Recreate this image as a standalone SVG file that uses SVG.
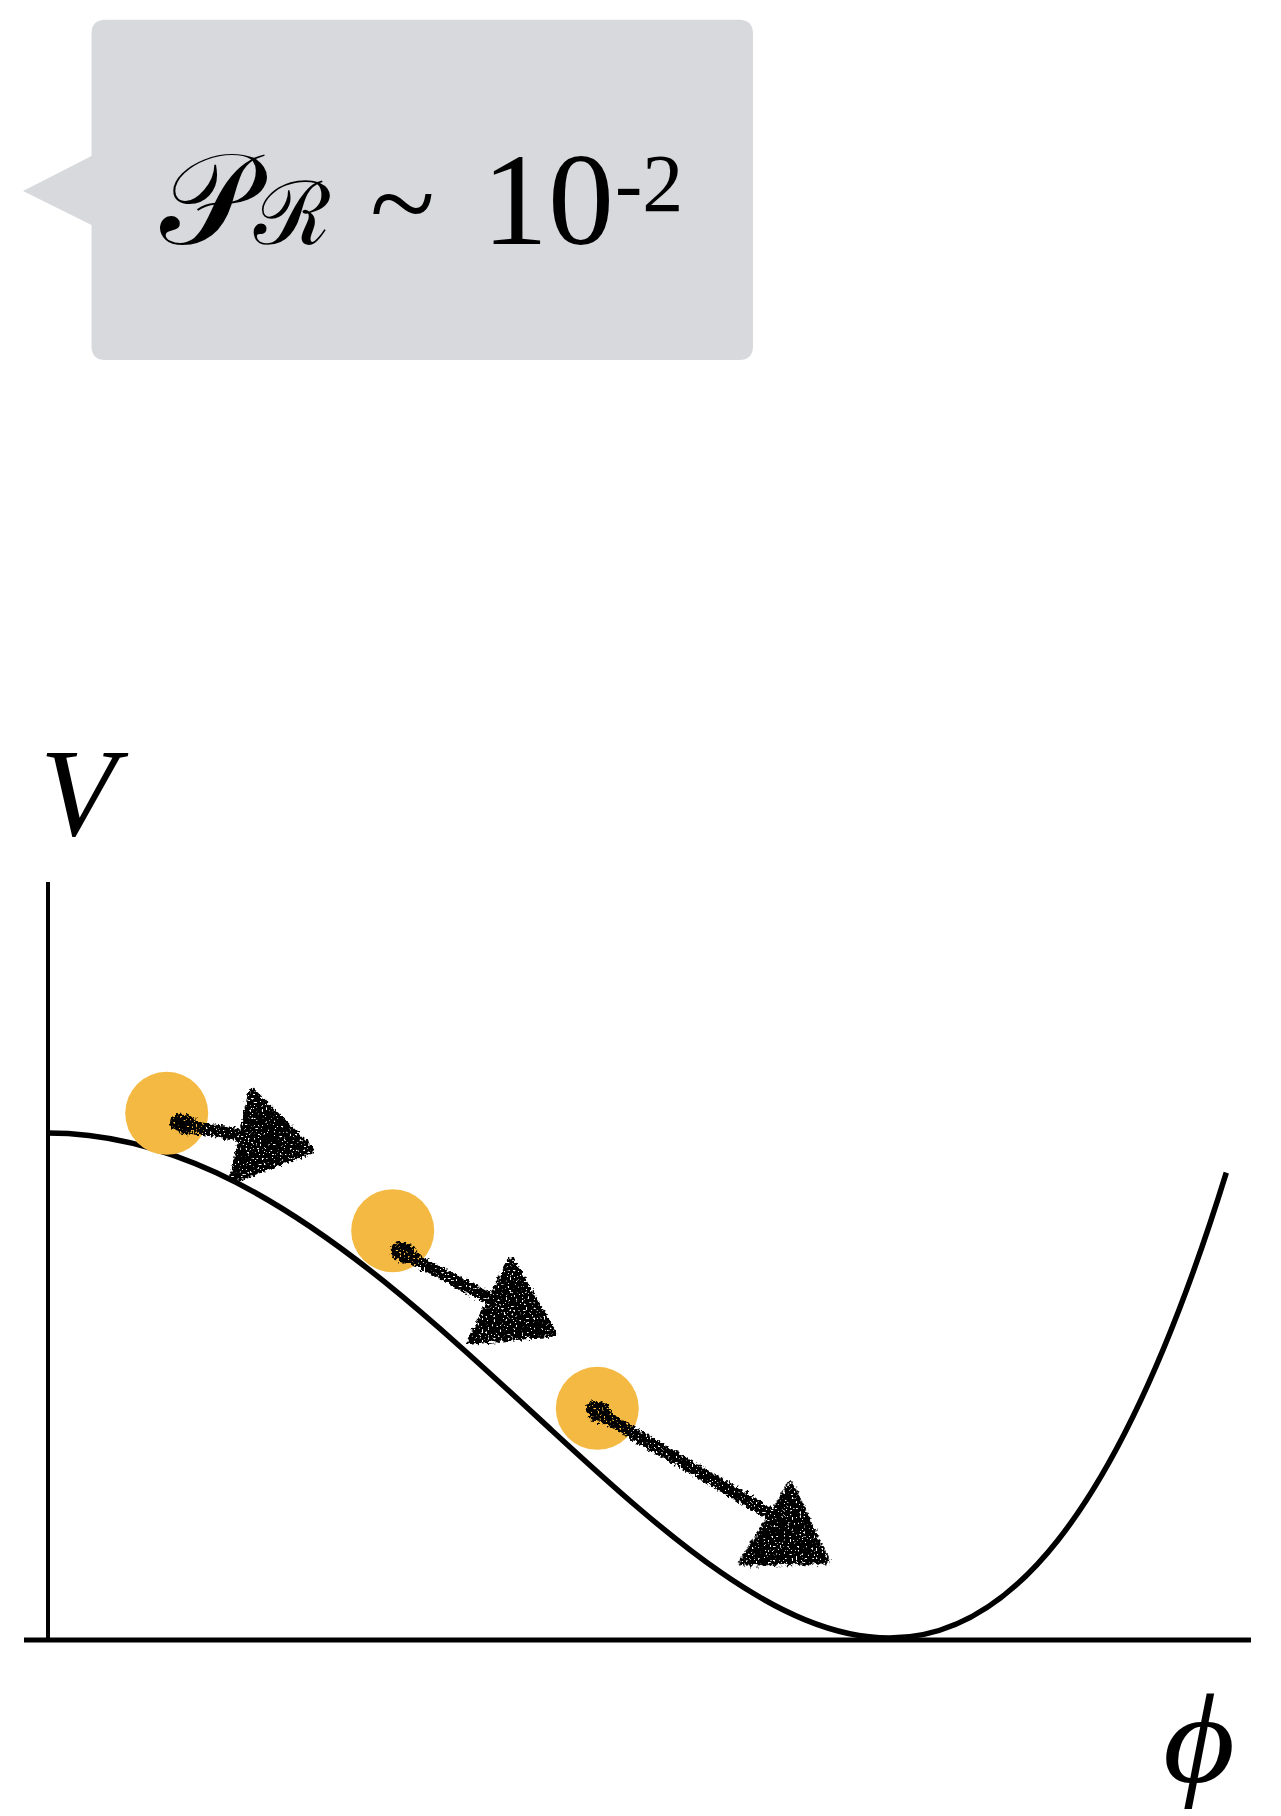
<svg xmlns="http://www.w3.org/2000/svg" width="1281" height="1816" viewBox="0 0 1281 1816">
<style>
.math{font-family:"Liberation Serif","DejaVu Serif",serif;fill:#000}
.it{font-style:italic}
.axis{stroke:#000;fill:none}
.ball{fill:#F4B942}
.shaft{stroke:#000;stroke-width:12;stroke-linecap:round;fill:none}
.head{fill:#000;stroke:#000;stroke-width:7;stroke-linejoin:round}
.blob{fill:#000}
</style>
<defs>
<filter id="chalk" x="-30%" y="-30%" width="160%" height="160%">
<feTurbulence type="fractalNoise" baseFrequency="0.3" numOctaves="2" seed="4" result="n"/>
<feDisplacementMap in="SourceGraphic" in2="n" scale="8" xChannelSelector="R" yChannelSelector="G" result="d"/>
<feTurbulence type="fractalNoise" baseFrequency="0.5" numOctaves="1" seed="9" result="n2"/>
<feColorMatrix in="n2" type="matrix" values="0 0 0 0 0 0 0 0 0 0 0 0 0 0 0 0 0 0 -14 10" result="holes"/>
<feComposite in="d" in2="holes" operator="in"/>
</filter>
<polygon id="arrowhead" class="head" points="0,0 -70,-45 -70,45"/>
</defs>
<rect width="1281" height="1816" fill="#fff"/>
<g id="callout">
<path d="M105.5 19.7 H739 Q753 19.7 753 33.7 V346 Q753 360 739 360 H105.5 Q91.5 360 91.5 346 V225 L23 191 L91.5 156 V33.7 Q91.5 19.7 105.5 19.7 Z" fill="#D8D9DC"/>
<text class="math" y="244"><tspan x="160" font-size="130">𝒫</tspan><tspan x="254" font-size="88">ℛ</tspan><tspan x="370" font-size="120">~</tspan><tspan x="482" font-size="132">10</tspan><tspan x="615" y="211" font-size="82">-2</tspan></text>
</g>
<g id="axes">
<line class="axis" x1="48" y1="882" x2="48" y2="1640" stroke-width="4"/>
<line class="axis" x1="24" y1="1640" x2="1251" y2="1640" stroke-width="5"/>
<text id="label-V" class="math it" x="40" y="835" font-size="125">V</text>
<text id="label-phi" class="math it" x="1163" y="1782" font-size="127" textLength="72" lengthAdjust="spacingAndGlyphs">ϕ</text>
</g>
<g id="potential">
<path class="axis" stroke-width="5.5" d="M47.5 1133 C103.6 1133 159.8 1146.7 215.9 1172.6 C272 1198.5 328.2 1236.5 384.3 1281.7 C440.4 1327 496.6 1379.5 552.7 1431.2 C608.8 1482.9 665 1533.8 721.1 1572.6 C777.2 1611.4 833.4 1638 889.5 1638 C945.6 1638 1001.8 1611.3 1057.9 1540.2 C1114 1469.1 1170.2 1353.6 1226.3 1172.6"/>
</g>
<g id="ball1"><circle class="ball" cx="166.7" cy="1113.3" r="41.5"/></g>
<g id="ball2"><circle class="ball" cx="392.7" cy="1230.7" r="41.5"/></g>
<g id="ball3"><circle class="ball" cx="597.3" cy="1408.3" r="41.5"/></g>
<g id="connectors" filter="url(#chalk)">
<g id="arrow1">
<ellipse class="blob" cx="184" cy="1124" rx="14" ry="10" transform="rotate(10 184 1124)"/>
<path class="shaft" d="M182 1125 L248 1137"/>
<use href="#arrowhead" transform="translate(311 1150) rotate(12)"/>
</g>
<g id="arrow2">
<ellipse class="blob" cx="404" cy="1253" rx="14" ry="10" transform="rotate(27 404 1253)"/>
<path class="shaft" d="M402 1253 L496 1302"/>
<use href="#arrowhead" transform="translate(553 1333) rotate(27)"/>
</g>
<g id="arrow3">
<ellipse class="blob" cx="599" cy="1412" rx="14" ry="10" transform="rotate(30 599 1412)"/>
<path class="shaft" d="M597 1412 L772 1515"/>
<use href="#arrowhead" transform="translate(826 1561) rotate(32)"/>
</g>
</g>
</svg>
